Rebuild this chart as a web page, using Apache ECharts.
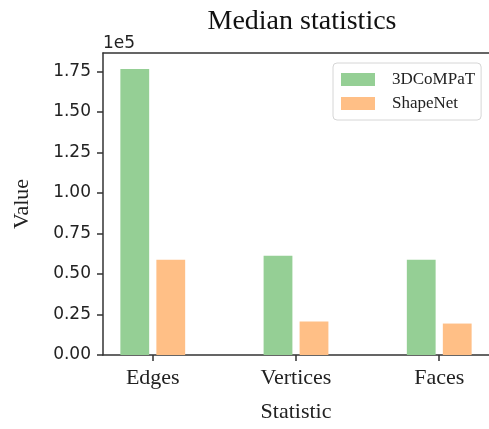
<!DOCTYPE html>
<html>
<head>
<meta charset="utf-8">
<script src="https://cdn.jsdelivr.net/npm/echarts@6/dist/echarts.min.js"></script>
<style>html,body{margin:0;padding:0;background:#fff;}#c{width:489px;height:429px;}</style>
</head>
<body>
<div id="c"></div>
<script>
const categories = ['Edges', 'Vertices', 'Faces'];
const seriesNames = ['3DCoMPaT', 'ShapeNet'];
const compatValues = [176400, 61200, 58700];
const shapenetValues = [58700, 20600, 19400];
const yTicks = [0, 25000, 50000, 75000, 100000, 125000, 150000, 175000];

const serif = 'Liberation Serif';
const sans = 'DejaVu Sans';
const chart = echarts.init(document.getElementById('c'));
chart.setOption({
  animation: false,
  backgroundColor: '#fff',
  title: {
    text: 'Median statistics', left: 297, top: 3, textAlign: 'center',
    textStyle: { fontFamily: serif, fontSize: 28, fontWeight: 'normal', color: '#111' }
  },
  grid: { left: 103, top: 53, right: -3, bottom: 74 },
  legend: {
    orient: 'vertical', left: 333, top: 63,
    data: seriesNames,
    icon: 'rect', itemWidth: 34, itemHeight: 13, itemGap: 7,
    padding: [8, 6, 8, 8],
    backgroundColor: '#fff', borderColor: '#d6d6d6', borderWidth: 1, borderRadius: 4,
    textStyle: { fontFamily: serif, fontSize: 17, color: '#222', padding: [0, 0, 0, 12] }
  },
  graphic: [{
    type: 'text', left: 103, top: 35,
    style: { text: '1e5', fontFamily: sans, fontSize: 17, fill: '#222' }
  }],
  xAxis: [{
    type: 'value', min: -0.3475, max: 2.3475,
    splitLine: { show: false },
    axisLine: { show: true, onZero: false, lineStyle: { color: '#333', width: 1.5 } },
    axisTick: { show: true, customValues: [0, 1, 2], length: 6, lineStyle: { color: '#333', width: 1.5 } },
    axisLabel: {
      customValues: [0, 1, 2], margin: 12,
      formatter: v => categories[Math.round(v)] || '',
      fontFamily: serif, fontSize: 22, color: '#222'
    },
    name: 'Statistic', nameLocation: 'middle', nameGap: 46,
    nameTextStyle: { fontFamily: serif, fontSize: 22, color: '#222' }
  }, {
    type: 'value', position: 'top', min: -0.3475, max: 2.3475,
    splitLine: { show: false }, axisTick: { show: false }, axisLabel: { show: false },
    axisLine: { show: true, onZero: false, lineStyle: { color: '#333', width: 1.5 } }
  }],
  yAxis: {
    type: 'value', min: 0, max: 186300,
    splitLine: { show: false },
    axisLine: { show: true, onZero: false, lineStyle: { color: '#333', width: 1.5 } },
    axisTick: { show: true, customValues: yTicks, length: 6, lineStyle: { color: '#333', width: 1.5 } },
    axisLabel: {
      customValues: yTicks, margin: 12,
      formatter: v => (v / 1e5).toFixed(2),
      fontFamily: sans, fontSize: 17, color: '#222'
    },
    name: 'Value', nameLocation: 'middle', nameGap: 70, nameRotate: 90,
    nameTextStyle: { fontFamily: serif, fontSize: 22, color: '#222' }
  },
  series: [{
    name: seriesNames[0], type: 'bar', barWidth: 28.8, barGap: '25%',
    itemStyle: { color: '#95cf95' },
    data: compatValues.map((v, i) => [i, v])
  }, {
    name: seriesNames[1], type: 'bar', barWidth: 28.8, barGap: '25%',
    itemStyle: { color: '#ffbf86' },
    data: shapenetValues.map((v, i) => [i, v])
  }]
});
</script>
</body>
</html>
